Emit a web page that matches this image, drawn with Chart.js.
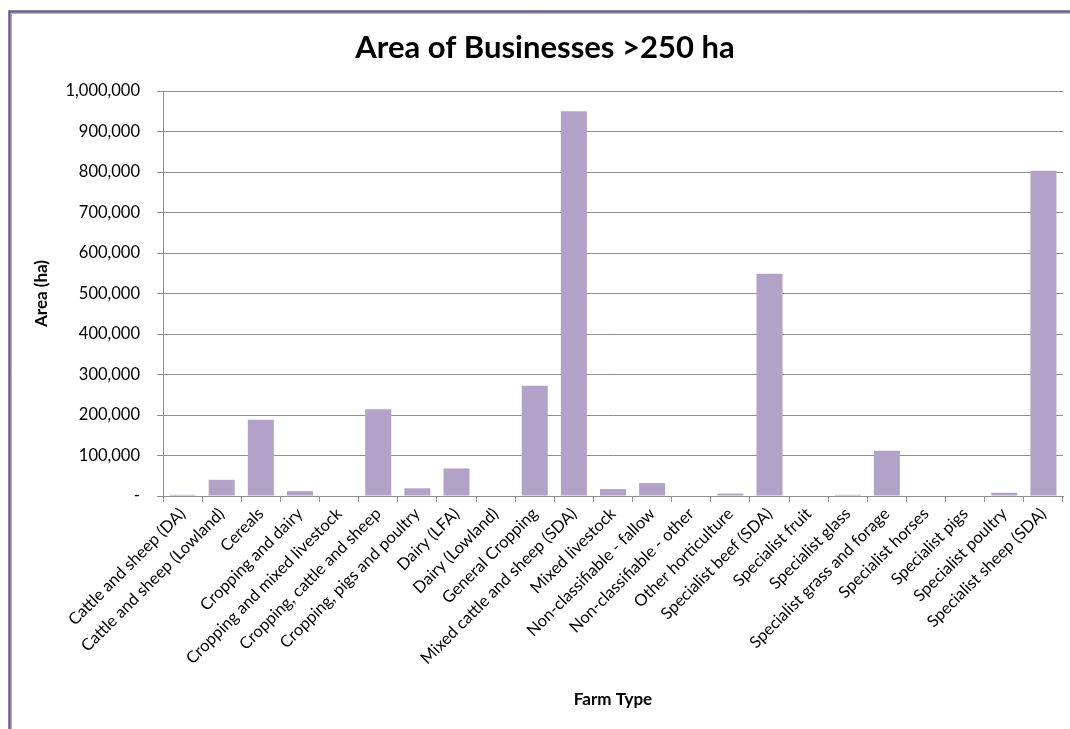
<!DOCTYPE html>
<html>
<head>
<meta charset="utf-8">
<title>Area of Businesses >250 ha</title>
<script src="https://cdn.jsdelivr.net/npm/chart.js@4"></script>
<style>
  html, body { margin: 0; padding: 0; background: #ffffff; }
  #wrap { position: relative; width: 1070px; height: 729px; }
</style>
</head>
<body>
<div id="wrap"><canvas id="chart" width="1070" height="729"></canvas></div>
<script>
// Farm types along the category axis
const farmTypes = [
  'Cattle and sheep (DA)',
  'Cattle and sheep (Lowland)',
  'Cereals',
  'Cropping and dairy',
  'Cropping and mixed livestock',
  'Cropping, cattle and sheep',
  'Cropping, pigs and poultry',
  'Dairy (LFA)',
  'Dairy (Lowland)',
  'General Cropping',
  'Mixed cattle and sheep (SDA)',
  'Mixed livestock',
  'Non-classifiable - fallow',
  'Non-classifiable - other',
  'Other horticulture',
  'Specialist beef (SDA)',
  'Specialist fruit',
  'Specialist glass',
  'Specialist grass and forage',
  'Specialist horses',
  'Specialist pigs',
  'Specialist poultry',
  'Specialist sheep (SDA)'
];

// Area (ha) held by businesses over 250 ha, per farm type
const areaHa = [
  3000, 40000, 188000, 12000, 0, 214000, 19000, 68000, 0, 272000,
  950000, 17000, 32000, 0, 6000, 549000, 0, 3000, 112000, 0, 0, 8000, 803000
];

// Value axis ticks
const yTickValues = [0, 100000, 200000, 300000, 400000, 500000, 600000, 700000, 800000, 900000, 1000000];

const FONT = 'Lato, Carlito, Calibri, "Open Sans", sans-serif';
const GRID = '#8f8f8f';

// Outer frame of the chart object (left and top edges)
const framePlugin = {
  id: 'frame',
  afterDraw(chart) {
    const ctx = chart.ctx;
    ctx.save();
    ctx.strokeStyle = '#b0b0b0';
    ctx.lineWidth = 1;
    ctx.beginPath();
    ctx.moveTo(11.5, 13.5); ctx.lineTo(11.5, 729);
    ctx.moveTo(11.5, 13.5); ctx.lineTo(1070, 13.5);
    ctx.stroke();
    ctx.strokeStyle = '#6b5a8e';
    ctx.lineWidth = 2.5;
    ctx.beginPath();
    ctx.moveTo(9.5, 729); ctx.lineTo(9.5, 11.5); ctx.lineTo(1070, 11.5);
    ctx.stroke();
    ctx.restore();
  }
};

new Chart(document.getElementById('chart'), {
  type: 'bar',
  data: {
    labels: farmTypes,
    datasets: [{
      label: 'Area (ha)',
      data: areaHa,
      backgroundColor: '#b3a2c7',
      borderWidth: 0,
      categoryPercentage: 1.0,
      barPercentage: 0.665
    }]
  },
  options: {
    responsive: false,
    animation: false,
    devicePixelRatio: 1,
    layout: { padding: { top: 10, left: 27, right: 7, bottom: 15 } },
    plugins: {
      legend: { display: false },
      tooltip: { enabled: false },
      title: {
        display: true,
        text: 'Area of Businesses >250 ha',
        color: '#000000',
        font: { family: FONT, size: 31, weight: 'bold', lineHeight: 1.2 },
        padding: { top: 19.4, bottom: 24.4 }
      }
    },
    scales: {
      x: {
        offset: true,
        grid: {
          offset: true,
          drawOnChartArea: false,
          drawTicks: true,
          tickLength: 6,
          color: GRID
        },
        border: { display: true, color: GRID, width: 1 },
        ticks: {
          autoSkip: false,
          maxRotation: 45,
          minRotation: 45,
          padding: 2,
          color: '#000000',
          font: { family: FONT, size: 16.5 }
        },
        title: {
          display: true,
          text: 'Farm Type',
          color: '#000000',
          font: { family: FONT, size: 17, weight: 'bold', lineHeight: 1.2 },
          padding: { top: 4, bottom: 4 }
        },
        afterFit(scale) { scale.height = 729 - 496 - 15; }
      },
      y: {
        min: 0,
        max: 1000000,
        afterBuildTicks(scale) { scale.ticks = yTickValues.map(v => ({ value: v })); },
        grid: {
          color: GRID,
          lineWidth: 1,
          drawTicks: true,
          tickLength: 6
        },
        border: { display: true, color: GRID, width: 1 },
        ticks: {
          padding: 17,
          color: '#000000',
          font: { family: FONT, size: 16.5 },
          callback(value) {
            return value === 0 ? '-' : value.toLocaleString('en-US');
          }
        },
        title: {
          display: true,
          text: 'Area (ha)',
          color: '#000000',
          font: { family: FONT, size: 17, weight: 'bold', lineHeight: 1.2 },
          padding: { top: 4, bottom: 4 }
        },
        afterFit(scale) { scale.width = 163 - 27; }
      }
    }
  },
  plugins: [framePlugin]
});
</script>
</body>
</html>
